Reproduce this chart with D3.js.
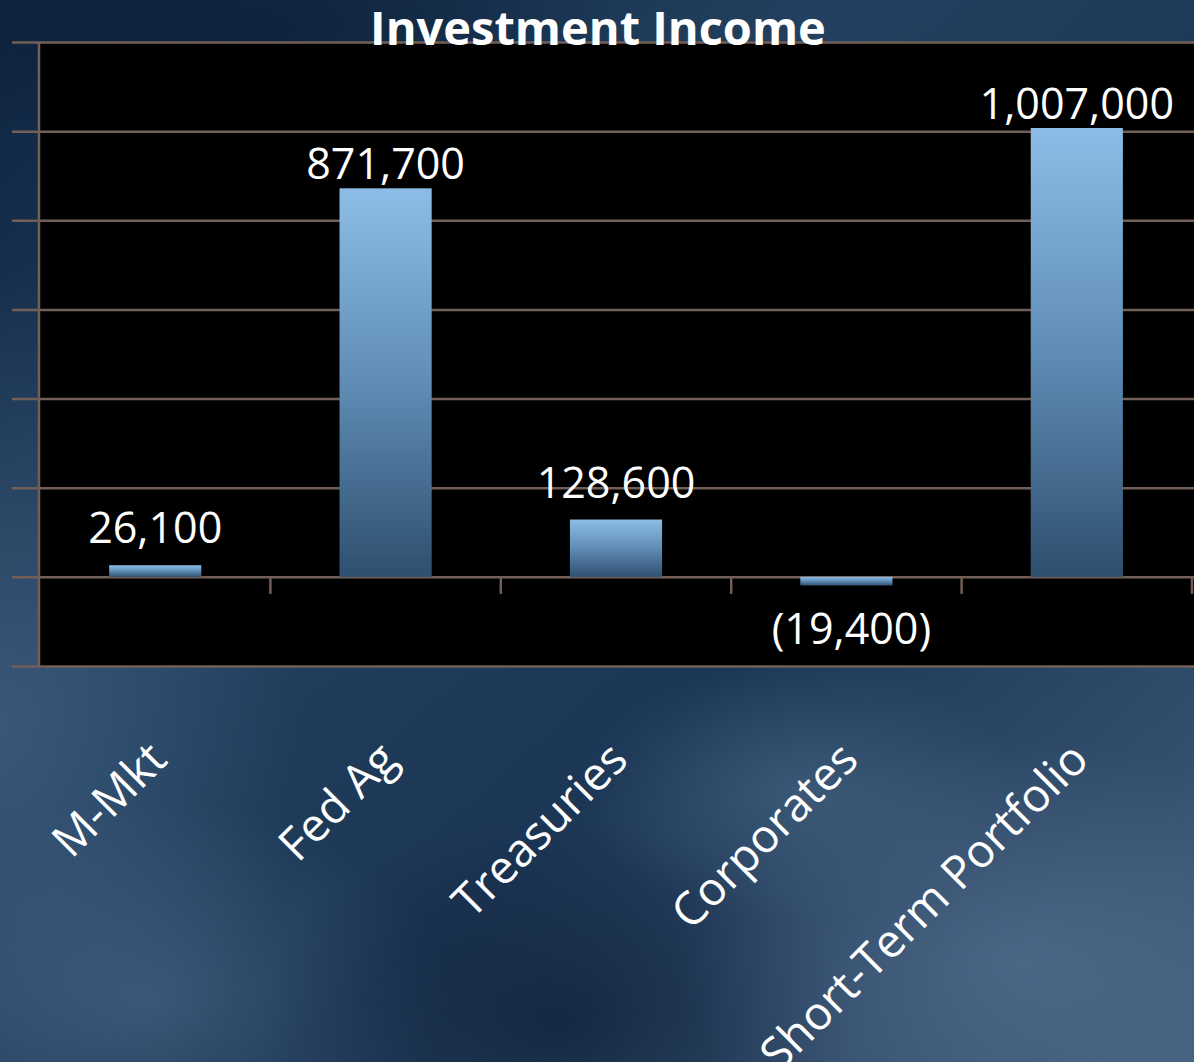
<!DOCTYPE html>
<html>
<head>
<meta charset="utf-8">
<script src="https://cdn.jsdelivr.net/npm/d3@7"></script>
<style>
  html, body { margin: 0; padding: 0; background: #1d3550; }
  svg { display: block; }
</style>
</head>
<body>
<svg id="chart" width="1194" height="1062"></svg>
<script>
const categories = ["M-Mkt", "Fed Ag", "Treasuries", "Corporates", "Short-Term Portfolio"];
const values = [26100, 871700, 128600, -19400, 1007000];
const yTicks = [-200000, 0, 200000, 400000, 600000, 800000, 1000000, 1200000];
const title = "Investment Income";

const W = 1194, H = 1062;
const svg = d3.select("#chart");
const defs = svg.append("defs");

// background gradients
const bg = defs.append("linearGradient").attr("id", "bg").attr("x1", 0).attr("y1", 0).attr("x2", 1).attr("y2", 1);
bg.append("stop").attr("offset", "0%").attr("stop-color", "#0e2440");
bg.append("stop").attr("offset", "35%").attr("stop-color", "#22405f");
bg.append("stop").attr("offset", "62%").attr("stop-color", "#1c3655");
bg.append("stop").attr("offset", "100%").attr("stop-color", "#435e7c");

function radial(id, color, op) {
  const g = defs.append("radialGradient").attr("id", id);
  g.append("stop").attr("offset", "0%").attr("stop-color", color).attr("stop-opacity", op);
  g.append("stop").attr("offset", "100%").attr("stop-color", color).attr("stop-opacity", 0);
}
radial("glow1", "#50708f", 0.5);
radial("glow2", "#0b1c33", 0.65);
radial("glow3", "#6380a0", 0.45);

svg.append("rect").attr("width", W).attr("height", H).attr("fill", "url(#bg)");
svg.append("ellipse").attr("cx", 0).attr("cy", 720).attr("rx", 300).attr("ry", 450).attr("fill", "url(#glow1)");
svg.append("ellipse").attr("cx", 150).attr("cy", 1000).attr("rx", 300).attr("ry", 200).attr("fill", "url(#glow1)");
svg.append("ellipse").attr("cx", 560).attr("cy", 1020).attr("rx", 300).attr("ry", 200).attr("fill", "url(#glow2)");
svg.append("ellipse").attr("cx", 1020).attr("cy", 960).attr("rx", 340).attr("ry", 220).attr("fill", "url(#glow3)");
svg.append("ellipse").attr("cx", 800).attr("cy", 790).attr("rx", 220).attr("ry", 130).attr("fill", "url(#glow1)");
svg.append("ellipse").attr("cx", 250).attr("cy", 30).attr("rx", 380).attr("ry", 120).attr("fill", "url(#glow2)");

// bar gradient
const bgGrad = defs.append("linearGradient").attr("id", "bar").attr("x1", 0).attr("y1", 0).attr("x2", 0).attr("y2", 1);
bgGrad.append("stop").attr("offset", "0%").attr("stop-color", "#8dbde6");
bgGrad.append("stop").attr("offset", "50%").attr("stop-color", "#5f8db5");
bgGrad.append("stop").attr("offset", "100%").attr("stop-color", "#2f4f6f");

const plot = { left: 40, right: 1192, top: 42, bottom: 666 };

const x = d3.scaleBand().domain(categories).range([plot.left, plot.right]).paddingInner(0.6).paddingOuter(0.3);
const xTick = d3.scaleBand().domain(categories).range([plot.left, plot.right]);
const y = d3.scaleLinear().domain([-200000, 1200000]).range([plot.bottom, plot.top]);

const gridColor = "#725f57";

// plot area
svg.append("rect").attr("x", plot.left).attr("y", plot.top).attr("width", W - plot.left).attr("height", plot.bottom - plot.top).attr("fill", "#000");

// y axis with gridlines
const yAxis = d3.axisLeft(y).tickValues(yTicks).tickSize(-(W - plot.left)).tickFormat("");
const yg = svg.append("g").attr("transform", `translate(${plot.left},0)`).call(yAxis);
yg.select(".domain").remove();
yg.selectAll(".tick line").attr("stroke", gridColor).attr("stroke-width", 2.5).attr("x1", -28);

svg.append("line").attr("x1", plot.left - 1).attr("x2", plot.left - 1).attr("y1", plot.top).attr("y2", plot.bottom)
  .attr("stroke", gridColor).attr("stroke-width", 2.5);

// category axis at zero
const xAxis = d3.axisBottom(xTick).tickSize(0).tickFormat("");
const xg = svg.append("g").attr("transform", `translate(0,${y(0)})`).call(xAxis);
xg.select(".domain").remove();
xg.selectAll(".tick").remove();
const bounds = categories.slice(1).map(c => xTick(c)).concat([plot.right]);
xg.selectAll("line.sep").data(bounds).join("line")
  .attr("x1", d => d).attr("x2", d => d).attr("y1", 0).attr("y2", 17)
  .attr("stroke", gridColor).attr("stroke-width", 2.5);

// bars
const data = categories.map((c, i) => ({ c, v: values[i] }));
svg.selectAll("rect.bar").data(data).join("rect")
  .attr("class", "bar")
  .attr("x", d => x(d.c))
  .attr("width", x.bandwidth())
  .attr("y", d => Math.min(y(d.v), y(0)))
  .attr("height", d => Math.abs(y(d.v) - y(0)))
  .attr("fill", "url(#bar)");

// value labels
const fmt = v => v < 0 ? "(" + d3.format(",")(-v) + ")" : d3.format(",")(v);
svg.selectAll("text.val").data(data).join("text")
  .attr("class", "val")
  .attr("x", d => x(d.c) + x.bandwidth() / 2 + (d.v < 0 ? 5 : 0))
  .attr("y", d => {
    if (d.v < 0) return y(d.v) + 58;
    const h = y(0) - y(d.v);
    return y(d.v) - (h < 100 ? 22 : 9);
  })
  .attr("text-anchor", "middle")
  .attr("fill", "#fff")
  .attr("font-family", "'Open Sans', sans-serif")
  .attr("font-size", 43)
  .text(d => fmt(d.v));

// category labels
svg.selectAll("text.cat").data(categories).join("text")
  .attr("class", "cat")
  .attr("transform", c => `translate(${xTick(c) + xTick.bandwidth() / 2 + 14},${762}) rotate(-45)`)
  .attr("text-anchor", "end")
  .attr("fill", "#fff")
  .attr("font-family", "'Open Sans', sans-serif")
  .attr("font-size", 46)
  .text(c => c);

// title
svg.append("text")
  .attr("x", 598).attr("y", 45)
  .attr("text-anchor", "middle")
  .attr("fill", "#fff")
  .attr("font-family", "'Open Sans', sans-serif")
  .attr("font-weight", "bold")
  .attr("font-size", 47)
  .text(title);
</script>
</body>
</html>
